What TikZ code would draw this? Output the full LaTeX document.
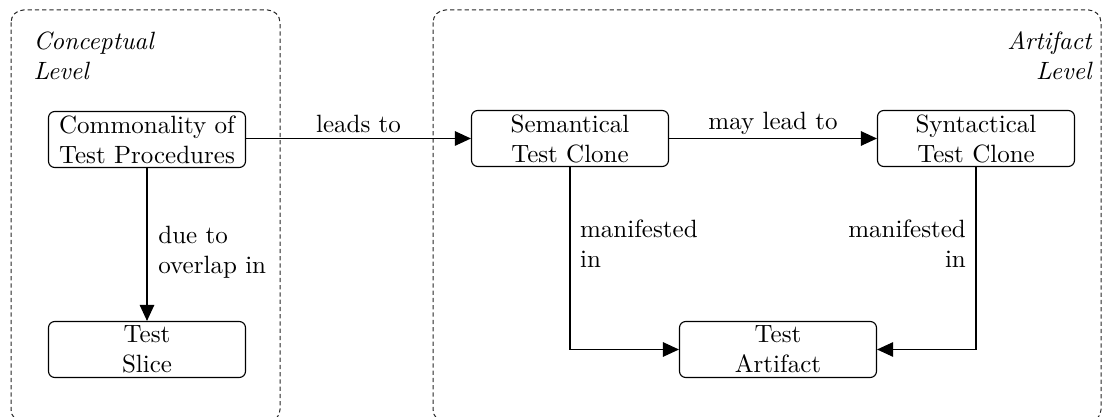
\documentclass[tikz,border=0pt]{standalone}
\usetikzlibrary{arrows.meta}
\begin{document}
\begin{tikzpicture}[x=0.4pt,y=-0.4pt,
  box/.style={draw, rounded corners=2.5pt, minimum width=78.8pt, minimum height=22.4pt,
    align=center, inner sep=1pt, line width=0.45pt},
  level/.style={draw=black!85, dash pattern=on 1.7pt off 1.2pt, rounded corners=5pt, line width=0.4pt},
  conn/.style={-{Triangle[length=6.4pt,width=5.8pt]}, line width=0.45pt},
  lbl/.style={font=\itshape, align=left, inner sep=0pt}]
\useasboundingbox (0,0) rectangle (1104,417);
% level frames
\draw[level] (11,10) rectangle (280,422);
\draw[level] (433,10) rectangle (1101,422);
\node[lbl, anchor=north west] (cl) at (33,31) {Conceptual\\Level};
\node[lbl, anchor=north east, align=right] (al) at (1092,31) {Artifact\\Level};
% elements
\node[box] (cp) at (147,139.5) {Commonality of\\Test Procedures};
\node[box] (ts) at (147,349.5) {Test\\Slice};
\node[box] (sem) at (570,138.5) {Semantical\\Test Clone};
\node[box] (syn) at (976,138.5) {Syntactical\\Test Clone};
\node[box] (art) at (778,349.5) {Test\\Artifact};
% relations
\draw[conn] (cp.east |- sem.west) -- node[above, inner sep=2pt] {leads to} (sem.west);
\draw[conn] (sem) -- node[above, inner sep=1.5pt] {may lead to} (syn);
\draw[conn] (cp.south) -- node[right, align=left, pos=0.55, xshift=1pt] {due to\\overlap in} (ts.north);
\draw[conn] (sem.south) -- node[right, align=left, pos=0.42, xshift=0.5pt] {manifested\\in} (sem.south |- art.west) -- (art.west);
\draw[conn] (syn.south) -- node[left, align=right, pos=0.42, xshift=-0.5pt] {manifested\\in} (syn.south |- art.east) -- (art.east);
\end{tikzpicture}
\end{document}
